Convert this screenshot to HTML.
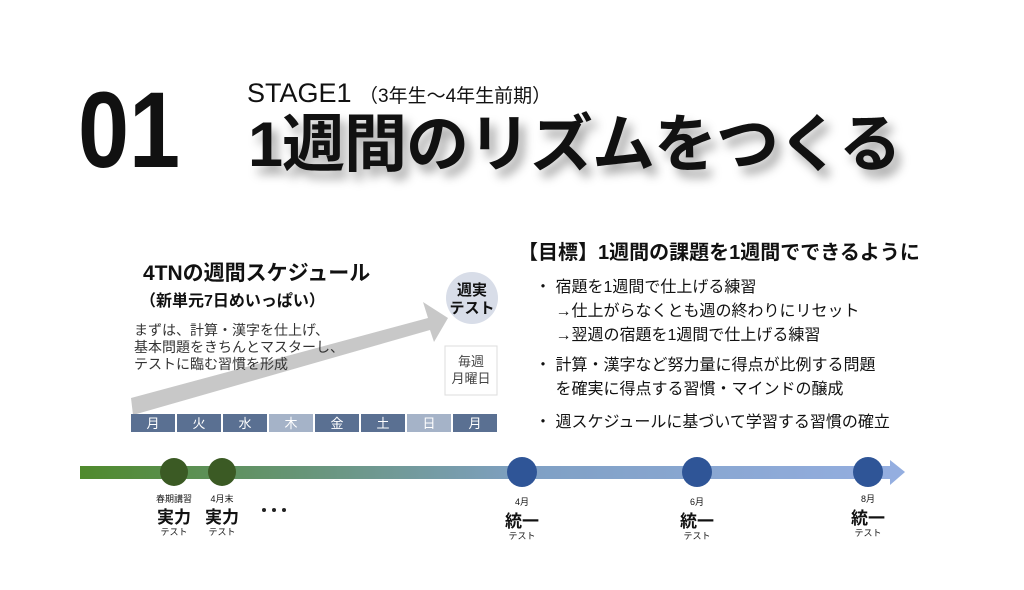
<!DOCTYPE html>
<html><head><meta charset="utf-8"><style>
body{margin:0;width:1024px;height:590px;background:#fff;font-family:"Liberation Sans","Noto Sans CJK JP",sans-serif;position:relative;overflow:hidden;color:#111}
.a{position:absolute;white-space:nowrap}
</style></head><body>
<div class="a" style="left:78px;top:76px;font-size:108px;font-weight:bold;line-height:1;transform:scaleX(0.85);transform-origin:left top">01</div>
<div class="a" style="left:247px;top:80px;font-size:27px;line-height:1">STAGE1 <span style="font-size:19px">（3年生～4年生前期）</span></div>
<div class="a" style="left:248px;top:114px;font-size:63px;font-weight:bold;line-height:1;letter-spacing:-1px;text-shadow:6px 8px 10px rgba(0,0,0,0.35)">1週間のリズムをつくる</div>

<svg class="a" style="left:0;top:0" width="1024" height="590">
<defs><linearGradient id="g" x1="0" x2="1"><stop offset="0" stop-color="#4f8a2c"/><stop offset="0.55" stop-color="#7fa0c4"/><stop offset="1" stop-color="#94aee0"/></linearGradient></defs>
<polygon points="131,398 428,318 423,302 448,318 434,342 430,330 133,415" fill="#c8c8c8"/>
<circle cx="472" cy="298" r="26" fill="#d8dde8"/>
<rect x="445" y="346" width="52" height="49" fill="#fff" stroke="#ddd"/>
<g fill="#5a7092">
<rect x="131" y="414" width="44" height="18"/><rect x="177" y="414" width="44" height="18"/><rect x="223" y="414" width="44" height="18"/><rect x="269" y="414" width="44" height="18" fill="#a5b3c8"/><rect x="315" y="414" width="44" height="18"/><rect x="361" y="414" width="44" height="18"/><rect x="407" y="414" width="44" height="18" fill="#a5b3c8"/><rect x="453" y="414" width="44" height="18"/>
</g>
<g fill="#fff" font-size="13" text-anchor="middle" font-family="Liberation Sans,Noto Sans CJK JP,sans-serif">
<text x="153" y="428">月</text><text x="199" y="428">火</text><text x="245" y="428">水</text><text x="291" y="428">木</text><text x="337" y="428">金</text><text x="383" y="428">土</text><text x="429" y="428">日</text><text x="475" y="428">月</text>
</g>
<rect x="80" y="466" width="812" height="13" fill="url(#g)"/>
<polygon points="890,460 905,472 890,485" fill="#94aee0"/>
<circle cx="174" cy="472" r="14" fill="#3b5a24"/><circle cx="222" cy="472" r="14" fill="#3b5a24"/>
<circle cx="522" cy="472" r="15" fill="#2f5597"/><circle cx="697" cy="472" r="15" fill="#2f5597"/><circle cx="868" cy="472" r="15" fill="#2f5597"/>
<circle cx="264" cy="510" r="2" fill="#222"/><circle cx="274" cy="510" r="2" fill="#222"/><circle cx="284" cy="510" r="2" fill="#222"/>
</svg>

<div class="a" style="left:143px;top:257px;font-size:21px;font-weight:bold">4TNの週間スケジュール</div>
<div class="a" style="left:140px;top:287px;font-size:16px;font-weight:bold">（新単元7日めいっぱい）</div>
<div class="a" style="left:134px;top:322px;font-size:14px;line-height:17px;color:#333">まずは、計算・漢字を仕上げ、<br>基本問題をきちんとマスターし、<br>テストに臨む習慣を形成</div>
<div class="a" style="left:446px;top:282px;width:52px;text-align:center;font-size:15px;font-weight:bold;line-height:18px">週実<br>テスト</div>
<div class="a" style="left:445px;top:353px;width:52px;text-align:center;font-size:13px;line-height:17px;color:#444">毎週<br>月曜日</div>

<div class="a" style="left:518px;top:236px;font-size:20px;font-weight:bold">【目標】1週間の課題を1週間でできるように</div>
<div class="a" style="left:535px;top:276px;font-size:16px;line-height:24px">・ 宿題を1週間で仕上げる練習<br>　 →仕上がらなくとも週の終わりにリセット<br>　 →翌週の宿題を1週間で仕上げる練習</div>
<div class="a" style="left:535px;top:354px;font-size:16px;line-height:24px">・ 計算・漢字など努力量に得点が比例する問題<br>　 を確実に得点する習慣・マインドの醸成</div>
<div class="a" style="left:535px;top:408px;font-size:16px">・ 週スケジュールに基づいて学習する習慣の確立</div>

<div class="a" style="left:144px;top:492px;width:60px;text-align:center;font-size:9px">春期講習</div>
<div class="a" style="left:192px;top:492px;width:60px;text-align:center;font-size:9px">4月末</div>
<div class="a" style="left:144px;top:503px;width:60px;text-align:center;font-size:17px;font-weight:bold">実力</div>
<div class="a" style="left:192px;top:503px;width:60px;text-align:center;font-size:17px;font-weight:bold">実力</div>
<div class="a" style="left:144px;top:525px;width:60px;text-align:center;font-size:9px">テスト</div>
<div class="a" style="left:192px;top:525px;width:60px;text-align:center;font-size:9px">テスト</div>

<div class="a" style="left:492px;top:495px;width:60px;text-align:center;font-size:9px">4月</div>
<div class="a" style="left:492px;top:507px;width:60px;text-align:center;font-size:17px;font-weight:bold">統一</div>
<div class="a" style="left:492px;top:529px;width:60px;text-align:center;font-size:9px">テスト</div>
<div class="a" style="left:667px;top:495px;width:60px;text-align:center;font-size:9px">6月</div>
<div class="a" style="left:667px;top:507px;width:60px;text-align:center;font-size:17px;font-weight:bold">統一</div>
<div class="a" style="left:667px;top:529px;width:60px;text-align:center;font-size:9px">テスト</div>
<div class="a" style="left:838px;top:492px;width:60px;text-align:center;font-size:9px">8月</div>
<div class="a" style="left:838px;top:504px;width:60px;text-align:center;font-size:17px;font-weight:bold">統一</div>
<div class="a" style="left:838px;top:526px;width:60px;text-align:center;font-size:9px">テスト</div>
</body></html>
